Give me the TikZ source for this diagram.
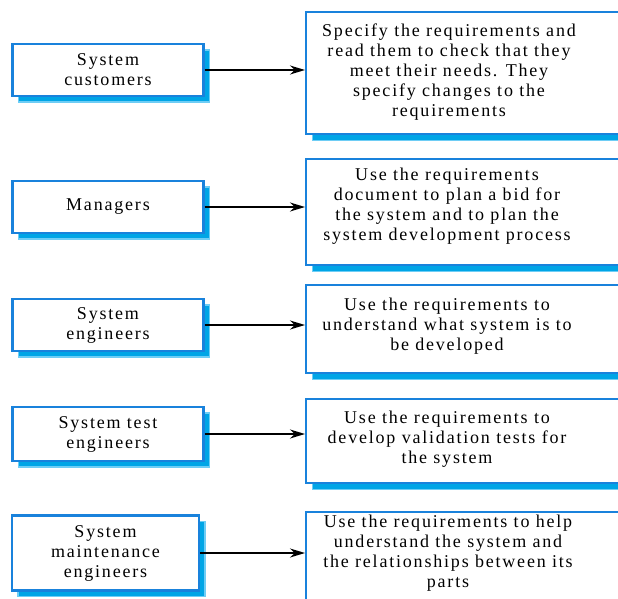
\documentclass[tikz,border=0pt]{standalone}
\usepackage{fontspec}
\setmainfont[LetterSpace=10]{Liberation Serif}
\usetikzlibrary{arrows.meta,shadows}
\definecolor{boxblue}{RGB}{25,130,220}
\definecolor{shadowfill}{RGB}{0,165,230}
\definecolor{shadowedge}{RGB}{110,205,245}
\tikzset{
  boxbase/.style={draw=boxblue, line width=2.4pt, fill=white, rectangle, inner sep=0pt,
    copy shadow={shadow xshift=6pt, shadow yshift=-6pt, fill=shadowfill, draw=shadowedge, line width=1.2pt}},
  lbox/.style={boxbase, minimum width=191pt, align=center, font=\fontsize{18}{20}\selectfont, text=black},
  rbox/.style={boxbase, minimum width=340pt, anchor=north west},
  rtext/.style={align=center, font=\fontsize{18}{20}\selectfont, text=black, inner sep=0pt},
  conn/.style={-{Stealth[length=15pt,width=9pt]}, line width=1.8pt, black}
}
\begin{document}
\begin{tikzpicture}[x=1pt,y=-1pt]
\path[use as bounding box] (0,0) rectangle (618,599);
\clip (0,0) rectangle (618,599);
% left boxes
\node[lbox, minimum height=52pt] (l1) at (108,70) {System\\customers};
\node[lbox, minimum height=52pt] (l2) at (108,207) {Managers};
\node[lbox, minimum height=52pt] (l3) at (108,325) {System\\engineers};
\node[lbox, minimum height=54pt] (l4) at (108,434) {System test\\engineers};
\node[lbox, minimum height=75pt, minimum width=187pt] (l5) at (105.5,553) {System\\maintenance\\engineers};
% right boxes
\node[rbox, minimum height=122pt] (r1) at (305,11) {};
\node[rbox, minimum height=106pt] (r2) at (305,158) {};
\node[rbox, minimum height=88pt] (r3) at (305,284) {};
\node[rbox, minimum height=84pt] (r4) at (305,398) {};
\node[rbox, minimum height=120pt] (r5) at (305,511) {};
% right texts
\node[rtext] (t1) at (449,72) {Specify the requirements and\\read them to check that they\\meet their needs. They\\specify changes to the\\requirements};
\node[rtext] (t2) at (447,206) {Use the requirements\\document to plan a bid for\\the system and to plan the\\system development process};
\node[rtext] (t3) at (447,326) {Use the requirements to\\understand what system is to\\be developed};
\node[rtext] (t4) at (447,439) {Use the requirements to\\develop validation tests for\\the system};
\node[rtext] (t5) at (448,553) {Use the requirements to help\\understand the system and\\the relationships between its\\parts};
% connectors
\draw[conn] (l1.east) -- (l1.east -| r1.west);
\draw[conn] (l2.east) -- (l2.east -| r2.west);
\draw[conn] (l3.east) -- (l3.east -| r3.west);
\draw[conn] (l4.east) -- (l4.east -| r4.west);
\draw[conn] (l5.east) -- (l5.east -| r5.west);
\end{tikzpicture}
\end{document}
